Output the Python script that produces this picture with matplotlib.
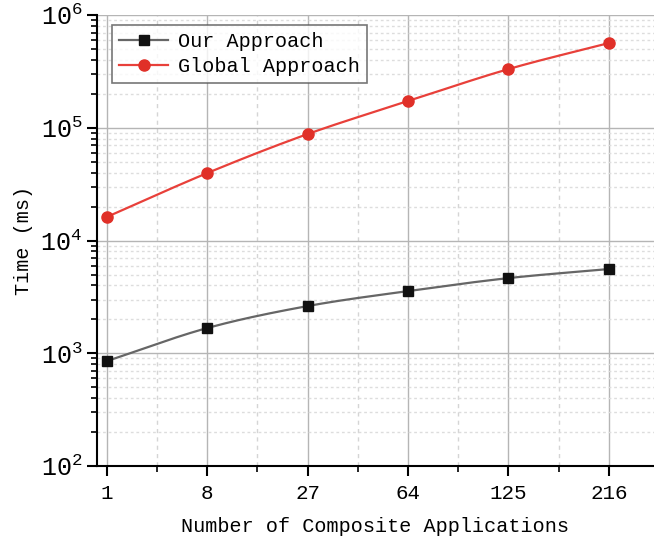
import matplotlib.pyplot as plt
import numpy as np
from matplotlib.ticker import LogLocator, MultipleLocator, NullFormatter

plt.rcParams['font.family'] = ['Liberation Mono', 'DejaVu Sans Mono']
plt.rcParams['mathtext.fontset'] = 'stix'

apps = ["1", "8", "27", "64", "125", "216"]
ours = [853, 1675, 2625, 3565, 4645, 5590]
glob = [16200, 39700, 88100, 172600, 332000, 565000]


def smooth(xs, ys, n=30):
    # catmull-rom in (x, log y) just for drawing the curve
    xs = np.asarray(xs, float)
    ly = np.log10(ys)
    px = np.concatenate([[2 * xs[0] - xs[1]], xs, [2 * xs[-1] - xs[-2]]])
    py = np.concatenate([[2 * ly[0] - ly[1]], ly, [2 * ly[-1] - ly[-2]]])
    ox, oy = [], []
    for i in range(1, len(px) - 2):
        t = np.linspace(0, 1, n)
        for arr, out in ((px, ox), (py, oy)):
            p0, p1, p2, p3 = arr[i - 1:i + 3]
            out.extend(0.5 * (2 * p1 + (-p0 + p2) * t
                              + (2 * p0 - 5 * p1 + 4 * p2 - p3) * t ** 2
                              + (-p0 + 3 * p1 - 3 * p2 + p3) * t ** 3))
    return np.array(ox), 10 ** np.array(oy)


fig = plt.figure(figsize=(6.54, 5.4), dpi=100)
ax = fig.add_axes([0.148, 0.137, 0.852, 0.835])
x = np.arange(len(apps))

sx, sy = smooth(x, ours)
ax.plot(sx, sy, color="#666666", lw=1.6, zorder=3)
ax.plot(x, ours, "s", color="#111111", ms=7, zorder=4)
sx, sy = smooth(x, glob)
ax.plot(sx, sy, color="#e8403a", lw=1.6, zorder=3)
ax.plot(x, glob, "o", color="#e03028", ms=8, zorder=4)

# legend proxies
ax.plot([], [], "-s", color="#666666", mfc="#111111", mec="#111111", ms=7, lw=1.6, label="Our Approach")
ax.plot([], [], "-o", color="#e8403a", mfc="#e03028", mec="#e03028", ms=8, lw=1.6, label="Global Approach")

ax.set_yscale("log")
ax.set_ylim(1e2, 1e6)
ax.set_xlim(-0.1, 5.45)
ax.set_xticks(x)
ax.set_xticklabels(apps)
ax.xaxis.set_minor_locator(MultipleLocator(0.5))
ax.yaxis.set_minor_locator(LogLocator(base=10, subs=np.arange(2, 10)))
ax.yaxis.set_minor_formatter(NullFormatter())

for s in ("top", "right"):
    ax.spines[s].set_visible(False)
for s in ("left", "bottom"):
    ax.spines[s].set_linewidth(1.5)
ax.tick_params(which="major", direction="out", length=7, width=1.5, labelsize=15)
ax.tick_params(which="minor", direction="out", length=4, width=1.2)
ax.tick_params(axis="y", labelsize=18)
ax.tick_params(axis="x", pad=6)

ax.grid(which="major", color="#b5b5b5", lw=1.0, ls="-")
ax.grid(which="minor", axis="y", color="#dddddd", lw=1.0, ls=(0, (2, 2)))
ax.grid(which="minor", axis="x", color="#d5d5d5", lw=1.0, ls=(0, (3, 3)))
ax.set_axisbelow(True)

ax.set_xlabel("Number of Composite Applications", fontsize=14.5, labelpad=10)
ax.set_ylabel("Time (ms)", fontsize=14.5, labelpad=5)

leg = ax.legend(loc="upper left", bbox_to_anchor=(0.01, 1.0), fontsize=14.5,
                frameon=True, fancybox=False, edgecolor="#555555",
                handlelength=2.4, borderpad=0.35, labelspacing=0.3, handletextpad=0.5)
leg.get_frame().set_linewidth(1.2)

fig.savefig("out.png", dpi=100)
